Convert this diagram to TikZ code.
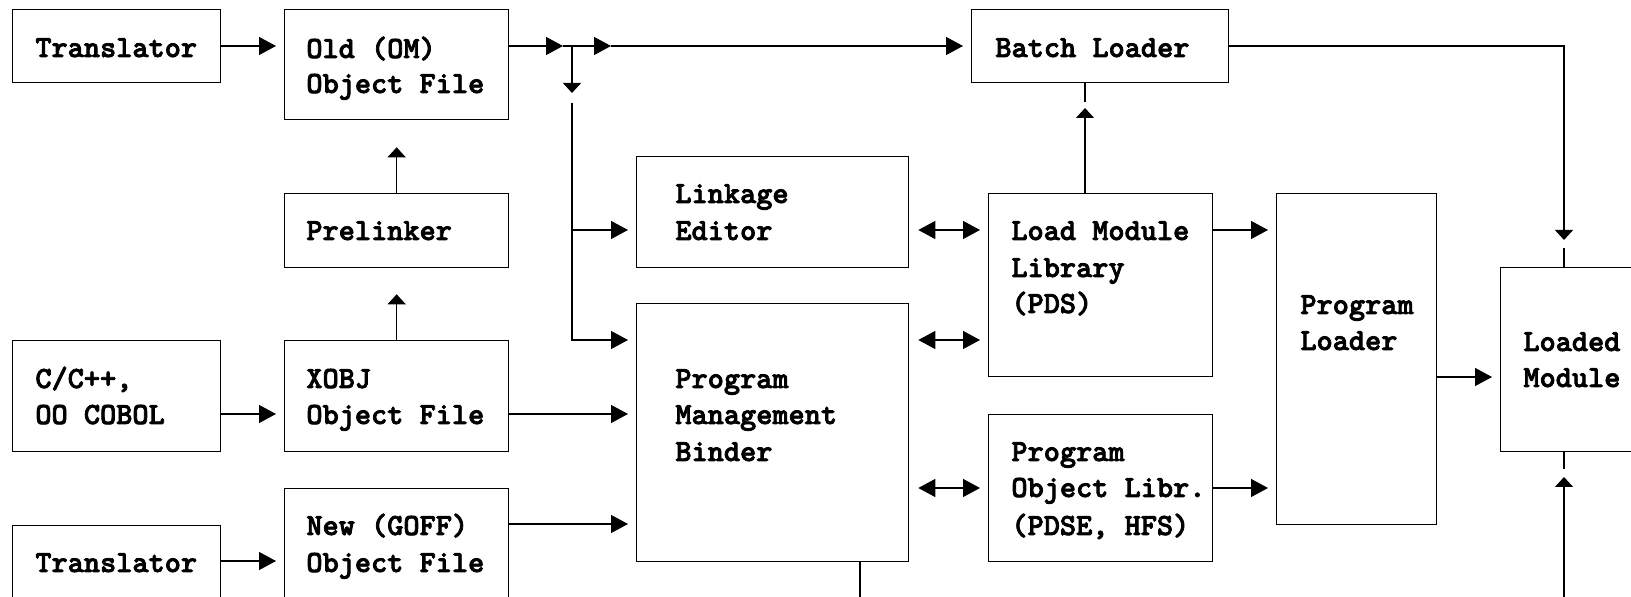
\documentclass[tikz,border=0pt]{standalone}
\usepackage{fontspec}
\newfontfamily\codefont{lmmonolt10-bold}[Extension=.otf, FakeBold=2.5]
\usetikzlibrary{arrows.meta}
\begin{document}
\begin{tikzpicture}[x=0.5pt,y=-0.5pt,
  box/.style={draw, line width=0.65pt, inner sep=0pt, anchor=north west},
  lbl/.style={anchor=base west, inner sep=0pt, font=\fontsize{15.4pt}{17.5pt}\selectfont\codefont},
  conn/.style={line width=0.65pt},
  harrow/.style={conn, -{Triangle[length=8.5pt,width=9pt]}},
  varrow/.style={conn, -{Triangle[length=5pt,width=9pt]}},
  dharrow/.style={conn, {Triangle[length=8.5pt,width=9pt]}-{Triangle[length=8.5pt,width=9pt]}},
  ]
\useasboundingbox (0,0) rectangle (1631,597);
\fill[white] (0,0) rectangle (1631,597);

% boxes
\node[box, minimum width=104pt, minimum height=36.5pt] (t1) at (12,9) {};
\node[box, minimum width=112pt, minimum height=55pt] (old) at (284,9) {};
\node[box, minimum width=128.5pt, minimum height=36.5pt] (bl) at (971,9) {};
\node[box, minimum width=112pt, minimum height=37pt] (pre) at (284,193) {};
\node[box, minimum width=136pt, minimum height=55.5pt] (link) at (636,156) {};
\node[box, minimum width=112pt, minimum height=91.5pt] (lml) at (988,193) {};
\node[box, minimum width=80pt, minimum height=165.5pt] (pl) at (1276,193) {};
\node[box, minimum width=80pt, minimum height=92pt] (lm) at (1500,267) {};
\node[box, minimum width=104pt, minimum height=55.5pt] (cc) at (12,340) {};
\node[box, minimum width=112pt, minimum height=55.5pt] (xobj) at (284,340) {};
\node[box, minimum width=136pt, minimum height=129pt] (binder) at (636,303) {};
\node[box, minimum width=112pt, minimum height=73.5pt] (pol) at (988,414) {};
\node[box, minimum width=104pt, minimum height=50pt] (t2) at (12,525) {};
\node[box, minimum width=112pt, minimum height=65pt] (new) at (284,488) {};

% texts
\node[lbl] (t1a) at (35,57) {Translator};
\node[lbl] (olda) at (306,58) {Old (OM)};
\node[lbl] (oldb) at (306,93) {Object File};
\node[lbl] (bla) at (995,57) {Batch Loader};
\node[lbl] (prea) at (306,240) {Prelinker};
\node[lbl] (linka) at (675,203) {Linkage};
\node[lbl] (linkb) at (675,240) {Editor};
\node[lbl] (lmla) at (1011,240) {Load Module};
\node[lbl] (lmlb) at (1011,277) {Library};
\node[lbl] (lmlc) at (1011,313) {(PDS)};
\node[lbl] (pla) at (1300,314) {Program};
\node[lbl] (plb) at (1300,350) {Loader};
\node[lbl] (lma) at (1523,351) {Loaded};
\node[lbl] (lmb) at (1523,387) {Module};
\node[lbl] (cca) at (35,388) {C/C++,};
\node[lbl] (ccb) at (35,424) {OO COBOL};
\node[lbl] (xa) at (306,388) {XOBJ};
\node[lbl] (xb) at (306,424) {Object File};
\node[lbl] (ba) at (675,388) {Program};
\node[lbl] (bbb) at (675,424) {Management};
\node[lbl] (bc) at (675,461) {Binder};
\node[lbl] (pa) at (1011,461) {Program};
\node[lbl] (pb) at (1011,497) {Object Libr.};
\node[lbl] (pc) at (1011,535) {(PDSE, HFS)};
\node[lbl] (t2a) at (35,572) {Translator};
\node[lbl] (na) at (306,535) {New (GOFF)};
\node[lbl] (nb) at (306,572) {Object File};

% levels and points
\coordinate (ya) at (0,46);
\coordinate (yb) at (0,230);
\coordinate (yc) at (0,340);
\coordinate (yd) at (0,414);
\coordinate (ye) at (0,488);
\coordinate (yf) at (0,524);
\coordinate (yg) at (0,561);
\coordinate (yh) at (0,377);
\coordinate (a1) at (563,46);
\coordinate (j) at (572,46);
\coordinate (a2) at (611,46);
\coordinate (jd) at (572,93);
\coordinate (jr) at (572,103);
\coordinate (ub) at (1085,108);
\coordinate (us) at (1085,102);
\coordinate (cd) at (1564,240);
\coordinate (cs) at (1564,248);
\coordinate (bu) at (1564,477);
\coordinate (bs) at (1564,469);
\coordinate (bend) at (1564,615);
\coordinate (bbot) at (860,615);

% connectors
\draw[harrow, shorten >=4pt] (t1.east |- ya) -- (old.west |- ya);
\draw[harrow] (old.east |- ya) -- (a1);
\draw[conn] (a1) -- (j);
\draw[harrow] (j) -- (a2);
\draw[harrow, shorten >=4pt] (a2) -- (bl.west |- ya);
\draw[varrow] (j) -- (jd);
\draw[harrow, shorten >=4pt] (jr) |- (binder.west |- yc);
\draw[harrow, shorten >=4pt] (jr |- yb) -- (link.west |- yb);
\draw[varrow, shorten >=13.5pt] (pre.north) -- (old.south);
\draw[varrow, shorten >=13pt] (xobj.north) -- (pre.south);
\draw[varrow] (ub |- lml.north) -- (ub);
\draw[conn] (us) -- (us |- bl.south);
\draw[dharrow, shorten <=4.5pt, shorten >=4pt] (link.east |- yb) -- (lml.west |- yb);
\draw[dharrow, shorten <=4.5pt, shorten >=4pt] (binder.east |- yc) -- (lml.west |- yc);
\draw[dharrow, shorten <=4.5pt, shorten >=4pt] (binder.east |- ye) -- (pol.west |- ye);
\draw[harrow, shorten >=4pt] (lml.east |- yb) -- (pl.west |- yb);
\draw[harrow, shorten >=4pt] (pol.east |- ye) -- (pl.west |- ye);
\draw[harrow, shorten >=4pt] (pl.east |- yh) -- (lm.west |- yh);
\draw[varrow] (bl.east |- ya) -| (cd);
\draw[conn] (cs) -- (cs |- lm.north);
\draw[varrow] (bend) -- (bu);
\draw[conn] (bs) -- (bs |- lm.south);
\draw[conn] (binder.south -| bbot) -- (bbot);
\draw[harrow, shorten >=4pt] (cc.east |- yd) -- (xobj.west |- yd);
\draw[harrow, shorten >=4pt] (xobj.east |- yd) -- (binder.west |- yd);
\draw[harrow, shorten >=4pt] (t2.east |- yg) -- (new.west |- yg);
\draw[harrow, shorten >=4pt] (new.east |- yf) -- (binder.west |- yf);
\end{tikzpicture}
\end{document}
